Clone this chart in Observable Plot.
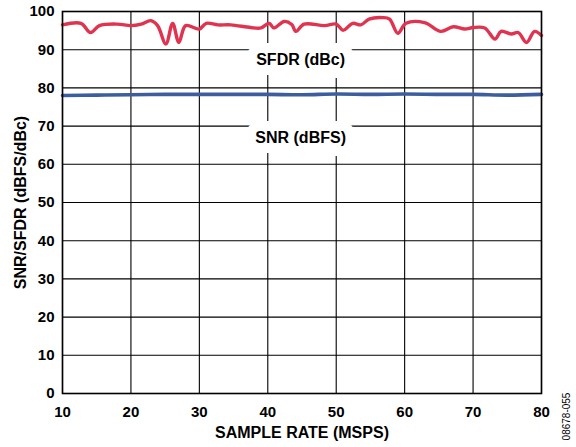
<!DOCTYPE html>
<html>
<head>
<meta charset="utf-8">
<script src="https://cdn.jsdelivr.net/npm/d3@7"></script>
<script src="https://cdn.jsdelivr.net/npm/@observablehq/plot@0.6"></script>
<style>
  html, body { margin: 0; padding: 0; background: #fff; }
  #chart svg { font-family: "Liberation Sans", Arial, Helvetica, sans-serif; font-weight: bold; }
</style>
</head>
<body>
<div id="chart"></div>
<script>
// SFDR (dBc) vs sample rate
const sfdrRate = [10.0, 12.7, 14.1, 15.4, 18.0, 20.0, 21.5, 22.9, 23.9, 25.1, 26.1, 27.0, 28.0, 30.0, 31.0, 32.7, 34.6, 37.5, 39.0, 40.2, 40.9, 42.4, 43.5, 44.1, 45.3, 48.3, 50.0, 51.0, 52.4, 53.6, 54.8, 56.8, 57.8, 59.0, 60.2, 62.9, 65.3, 67.1, 68.8, 70.0, 71.7, 73.2, 74.1, 75.6, 76.6, 77.8, 79.0, 80.0];
const sfdrVal  = [96.5, 96.9, 94.5, 96.3, 96.7, 96.3, 96.7, 97.6, 96.3, 91.5, 96.9, 91.9, 96.3, 95.4, 96.9, 96.5, 96.5, 95.8, 95.7, 96.9, 95.7, 97.4, 96.6, 94.8, 96.7, 96.3, 96.7, 95.1, 96.9, 96.5, 98.0, 98.4, 98.0, 94.3, 96.9, 97.1, 94.8, 96.0, 95.4, 95.8, 95.7, 92.8, 94.8, 94.1, 94.5, 91.9, 94.8, 93.7];
// SNR (dBFS) vs sample rate
const snrRate = [10, 15, 20, 25, 30, 35, 40, 45, 50, 55, 60, 65, 70, 75, 80];
const snrVal  = [78.0, 78.1, 78.2, 78.3, 78.3, 78.3, 78.3, 78.2, 78.4, 78.3, 78.4, 78.3, 78.3, 78.1, 78.3];

const xTicks = [10, 20, 30, 40, 50, 60, 70, 80];
const yTicks = [0, 10, 20, 30, 40, 50, 60, 70, 80, 90, 100];

const labelText = ["SFDR (dBc)", "SNR (dBFS)"];
const labelRate = [44.8, 44.8];
const labelVal  = [87.4, 66.8];

const xTitle = "SAMPLE RATE (MSPS)";
const yTitle = "SNR/SFDR (dBFS/dBc)";
const figCode = "08678-055";

const sfdr = sfdrRate.map((x, i) => ({x, y: sfdrVal[i]}));
const snr = snrRate.map((x, i) => ({x, y: snrVal[i]}));
const labels = labelText.map((t, i) => ({t, x: labelRate[i], y: labelVal[i]}));

const chart = Plot.plot({
  width: 576,
  height: 447,
  marginTop: 11,
  marginRight: 35,
  marginBottom: 54,
  marginLeft: 62,
  style: {fontFamily: '"Liberation Sans", Arial, sans-serif', fontWeight: "bold", background: "#fff"},
  x: {domain: [10, 80]},
  y: {domain: [0, 100]},
  marks: [
    Plot.gridX(xTicks, {stroke: "#000", strokeOpacity: 1, strokeWidth: 1.1}),
    Plot.gridY(yTicks, {stroke: "#000", strokeOpacity: 1, strokeWidth: 1.1}),
    Plot.text(labels, {x: "x", y: "y", text: "t", fontSize: 16, fontWeight: "bold", fill: "#000",
      stroke: "#fff", strokeWidth: 20, strokeLinejoin: "miter"}),
    Plot.line(snr, {x: "x", y: "y", stroke: "#3c5e9e", strokeWidth: 3.6, curve: "catmull-rom"}),
    Plot.line(sfdr, {x: "x", y: "y", stroke: "#e0334f", strokeWidth: 3.4, curve: "catmull-rom"}),
    Plot.axisX(xTicks, {tickSize: 0, tickPadding: 13, fontSize: 15, fontWeight: "bold", label: null}),
    Plot.axisY(yTicks, {tickSize: 0, tickPadding: 8, fontSize: 15, fontWeight: "bold", label: null}),
    Plot.text([xTitle], {frameAnchor: "bottom", dy: 44, fontSize: 16, fontWeight: "bold", fill: "#000"}),
    Plot.text([yTitle], {frameAnchor: "left", dx: -42, rotate: -90, textAnchor: "middle", lineAnchor: "middle", fontSize: 16, fontWeight: "bold", fill: "#000"}),
    Plot.text([figCode], {frameAnchor: "bottom-right", dx: 25, dy: 23, rotate: -90, textAnchor: "middle", lineAnchor: "middle", fontSize: 10, fontWeight: "normal", fill: "#000"}),
    Plot.frame({stroke: "#000", strokeWidth: 1.6})
  ]
});
document.getElementById("chart").appendChild(chart);
</script>
</body>
</html>
